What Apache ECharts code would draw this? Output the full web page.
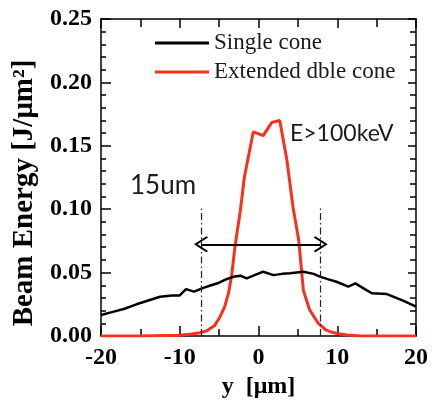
<!DOCTYPE html>
<html>
<head>
<meta charset="utf-8">
<script src="https://cdn.jsdelivr.net/npm/echarts@6/dist/echarts.min.js"></script>
<style>
  html, body { margin: 0; padding: 0; background: #fff; }
  #main { width: 432px; height: 403px; }
</style>
</head>
<body>
<div id="main"></div>
<script>
// values
var singleX = [-20, -18.5, -17, -15.5, -14, -12.5, -11, -10, -9.2, -8.2, -7, -6, -5, -4, -3, -2.3, -1.5, -0.5, 0.6, 1.9, 3, 4, 5.7, 7, 7.8, 9, 9.9, 11.4, 12.3, 13.5, 14.4, 16.3, 17.5, 18.5, 20];
var singleY = [0.0166, 0.019, 0.0215, 0.025, 0.028, 0.031, 0.032, 0.032, 0.037, 0.035, 0.038, 0.040, 0.042, 0.045, 0.047, 0.0476, 0.0455, 0.048, 0.0507, 0.048, 0.049, 0.0495, 0.0507, 0.049, 0.0468, 0.0445, 0.0428, 0.039, 0.0415, 0.037, 0.0337, 0.0331, 0.030, 0.0275, 0.0231];

var dbleX = [-20, -15, -10, -8.5, -7.4, -6.6, -5.6, -4.9, -4.3, -3.8, -3.4, -3, -2.3, -1.8, -1.3, -0.66, 0.6, 1.7, 2.7, 3.6, 4.4, 5.1, 5.7, 6.5, 7.6, 8.5, 9.1, 10, 11.2, 13, 15, 20];
var dbleY = [0, 0, 0.0005, 0.0015, 0.0026, 0.004, 0.008, 0.015, 0.023, 0.034, 0.048, 0.07, 0.099, 0.125, 0.141, 0.161, 0.158, 0.1685, 0.17, 0.139, 0.101, 0.076, 0.036, 0.0205, 0.010, 0.005, 0.0034, 0.002, 0.0008, 0, 0, 0];

var seriesNames = ['Single cone', 'Extended dble cone'];

// 15um width markers and the arrow between them
var markerX = [-7.3, 7.9];
var markerTop = 0.102;
var arrowY = 0.0723;

function pairs(xs, ys) {
    var out = [];
    for (var i = 0; i < xs.length; i++) {
        out.push([xs[i], ys[i]]);
    }
    return out;
}

var chart = echarts.init(document.getElementById('main'));

var serif = '"Liberation Serif", "Times New Roman", serif';
var chevron = 'path://M0,0 L10,12 L8.4,13.6 L0,3.4 L-8.4,13.6 L-10,12 Z';

// frame axis: same look for all four sides
function frameAxis(extra, majorLen, minorLen, minorSplit) {
    var ax = {
        type: 'value',
        axisLine: { show: true, onZero: false, lineStyle: { color: '#000', width: 1.5 } },
        axisTick: { show: true, inside: true, length: majorLen, lineStyle: { color: '#000', width: 1.5 } },
        minorTick: { show: true, splitNumber: minorSplit, length: minorLen, lineStyle: { color: '#000', width: 1.5 } },
        axisLabel: { show: false },
        splitLine: { show: false }
    };
    for (var k in extra) ax[k] = extra[k];
    return ax;
}

var option = {
    animation: false,
    grid: {
        left: 101, right: 16, top: 19, bottom: 67,
        outerBoundsMode: 'none',
        show: false
    },
    legend: {
        orient: 'vertical',
        left: 150,
        top: 26,
        itemWidth: 54,
        itemHeight: 3,
        itemGap: 5,
        icon: 'rect',
        data: seriesNames,
        textStyle: { fontFamily: serif, fontSize: 23, color: '#1a1a1a', lineHeight: 24 }
    },
    xAxis: [
        frameAxis({
            min: -20, max: 20, interval: 10,
            name: 'y  [\u03bcm]',
            nameLocation: 'middle',
            nameGap: 36,
            nameTextStyle: { fontFamily: serif, fontSize: 24, fontWeight: 'bold', color: '#000' },
            axisLabel: { show: true, fontFamily: serif, fontSize: 24, fontWeight: 'bold', color: '#000', margin: 10 }
        }, 10, 7, 2),
        frameAxis({ position: 'top', min: -20, max: 20, interval: 10 }, 9, 8, 2)
    ],
    yAxis: [
        frameAxis({
            min: 0, max: 0.25, interval: 0.05,
            axisLabel: {
                show: true, fontFamily: serif, fontSize: 24, fontWeight: 'bold', color: '#000', margin: 9,
                formatter: function (v) { return v.toFixed(2); }
            }
        }, 10, 5, 5),
        frameAxis({ position: 'right', min: 0, max: 0.25, interval: 0.05 }, 8, 6, 5)
    ],
    graphic: [
        {
            type: 'text', x: 25, y: 193, rotation: Math.PI / 2,
            style: {
                text: 'Beam Energy [J/\u03bcm\u00b2]',
                font: 'bold 29px "Liberation Serif"',
                fill: '#000', align: 'center', verticalAlign: 'middle'
            }
        },
        {
            type: 'text', left: 130, top: 173,
            style: { text: '15um', font: '26px Lato', fill: '#1a1a1a' }
        },
        {
            type: 'text', left: 290, top: 122,
            style: { text: 'E>100keV', font: '23px Lato', fill: '#1a1a1a' }
        }
    ],
    series: [
        {
            name: seriesNames[0],
            type: 'line',
            data: pairs(singleX, singleY),
            symbol: 'none',
            color: '#000',
            lineStyle: { color: '#000', width: 2.5 },
            z: 3,
            markLine: {
                silent: true,
                animation: false,
                label: { show: false },
                data: [
                    [
                        { coord: [markerX[0], 0], symbol: 'none' },
                        { coord: [markerX[0], markerTop], symbol: 'none' }
                    ],
                    [
                        { coord: [markerX[1], 0], symbol: 'none' },
                        { coord: [markerX[1], markerTop], symbol: 'none' }
                    ]
                ],
                lineStyle: { color: '#222', width: 1.2, type: [7, 3, 1.5, 3] }
            }
        },
        {
            name: seriesNames[1],
            type: 'line',
            data: pairs(dbleX, dbleY),
            symbol: 'none',
            color: '#f8311f',
            lineStyle: { color: '#f8311f', width: 3 },
            z: 2,
            markLine: {
                silent: true,
                animation: false,
                label: { show: false },
                symbol: [chevron, chevron],
                symbolSize: [16, 14],
                data: [
                    [
                        { coord: [markerX[0], arrowY] },
                        { coord: [markerX[1], arrowY] }
                    ]
                ],
                lineStyle: { color: '#000', width: 1.8, type: 'solid' }
            }
        }
    ]
};

chart.setOption(option);
</script>
</body>
</html>
